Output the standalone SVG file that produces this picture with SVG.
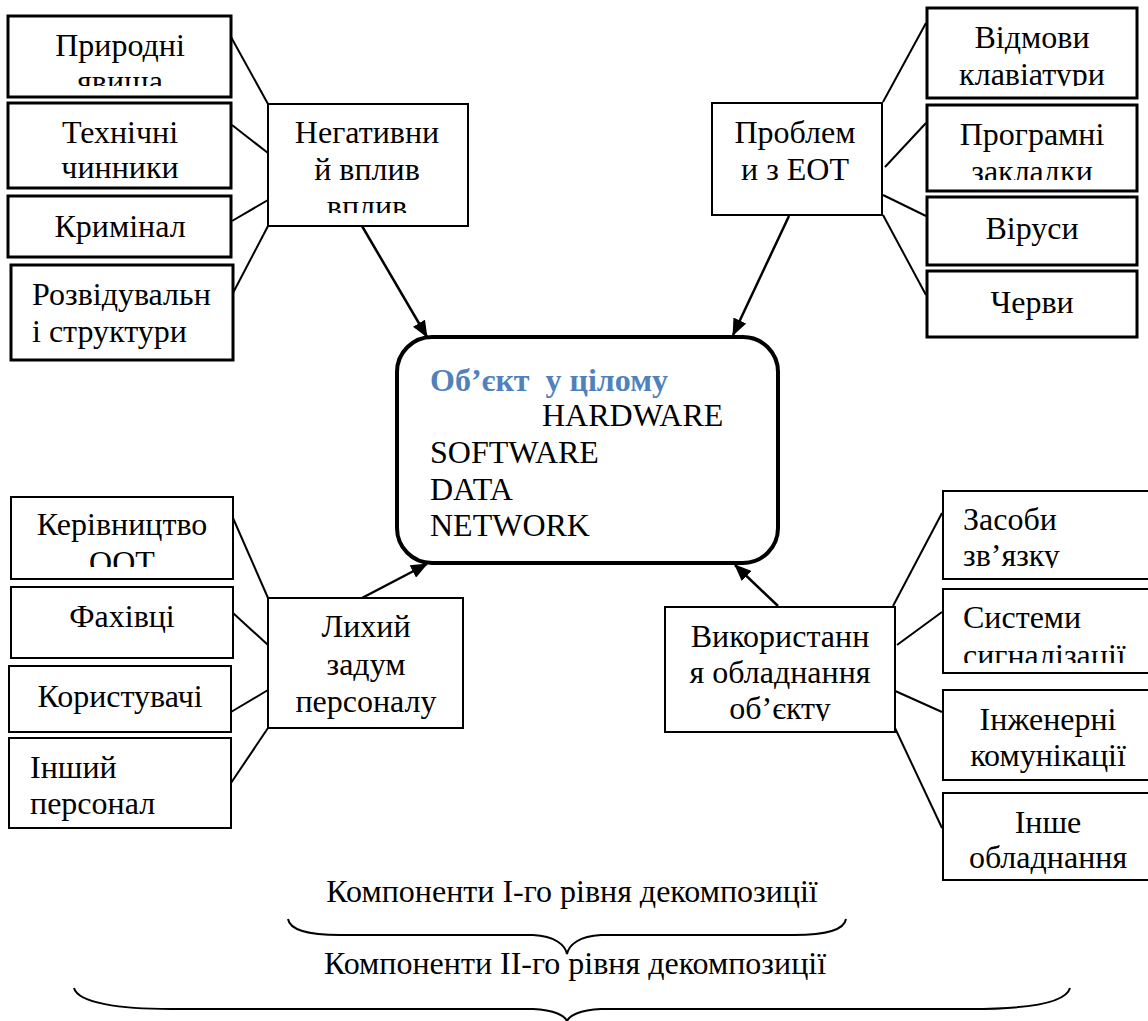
<svg xmlns="http://www.w3.org/2000/svg" width="1148" height="1021" viewBox="0 0 1148 1021">
<style>
text{font-family:"Liberation Serif","Times New Roman",serif;font-size:32px;fill:#000}
.c{text-anchor:middle}
.box{fill:#fff;stroke:#000;stroke-width:2}
.thick{stroke-width:3}
.ln{stroke:#000;stroke-width:2;fill:none}
.ar{stroke:#000;stroke-width:2.5;fill:none;marker-end:url(#ah)}
.title{font-weight:bold;fill:#4F81BD}
</style>
<defs>
<marker id="ah" markerUnits="userSpaceOnUse" markerWidth="18" markerHeight="14" refX="16" refY="7" orient="auto">
<path d="M0,0 L17,7 L0,14 Z" fill="#000"/>
</marker>
<clipPath id="cp1"><rect x="8" y="16" width="223" height="70"/></clipPath>
<clipPath id="cp2"><rect x="268" y="104" width="200" height="109"/></clipPath>
<clipPath id="cp3"><rect x="927" y="8" width="210" height="78"/></clipPath>
<clipPath id="cp4"><rect x="927" y="105" width="210" height="75"/></clipPath>
<clipPath id="cp5"><rect x="11" y="497" width="222" height="70"/></clipPath>
<clipPath id="cp6"><rect x="665" y="607" width="230" height="114"/></clipPath>
<clipPath id="cp7"><rect x="943" y="491" width="212" height="77"/></clipPath>
<clipPath id="cp8"><rect x="943" y="589" width="212" height="74"/></clipPath>
</defs>
<rect width="1148" height="1021" fill="#fff"/>

<g id="connectors">
<line class="ln" x1="231" y1="37" x2="268" y2="104"/>
<line class="ln" x1="232" y1="125" x2="268" y2="153"/>
<line class="ln" x1="232" y1="221" x2="268" y2="200"/>
<line class="ln" x1="233" y1="293" x2="268" y2="226"/>
<line class="ln" x1="883" y1="102" x2="926" y2="23"/>
<line class="ln" x1="885" y1="167" x2="926" y2="123"/>
<line class="ln" x1="883" y1="195" x2="926" y2="216"/>
<line class="ln" x1="883" y1="215" x2="926" y2="295"/>
<line class="ln" x1="233" y1="518" x2="268" y2="598"/>
<line class="ln" x1="233" y1="613" x2="268" y2="645"/>
<line class="ln" x1="231" y1="712" x2="268" y2="690"/>
<line class="ln" x1="231" y1="783" x2="268" y2="728"/>
<line class="ln" x1="893" y1="606" x2="942" y2="513"/>
<line class="ln" x1="897" y1="645" x2="942" y2="612"/>
<line class="ln" x1="893" y1="690" x2="942" y2="712"/>
<line class="ln" x1="895" y1="728" x2="942" y2="828"/>
<line class="ar" x1="362" y1="226" x2="427" y2="337"/>
<line class="ar" x1="789" y1="216" x2="733" y2="335"/>
<line class="ar" x1="362" y1="598" x2="427" y2="564"/>
<line class="ar" x1="778" y1="606" x2="735" y2="565"/>
</g>

<g id="n-center">
<rect x="397" y="337" width="381" height="226" rx="35" ry="35" fill="#fff" stroke="#000" stroke-width="4"/>
<text class="title" x="430" y="391" xml:space="preserve">Об’єкт  у цілому</text>
<text x="542" y="426">HARDWARE</text>
<text x="430" y="463">SOFTWARE</text>
<text x="430" y="500">DATA</text>
<text x="430" y="536">NETWORK</text>
</g>

<g id="n-pryrodni"><rect class="box thick" x="8" y="16" width="223" height="81"/>
<g clip-path="url(#cp1)"><text class="c" x="120" y="56">Природні</text><text class="c" x="120" y="92">явища</text></g></g>
<g id="n-tekhnichni"><rect class="box thick" x="8" y="103" width="223" height="85"/>
<text class="c" x="120" y="143">Технічні</text><text class="c" x="120" y="178">чинники</text></g>
<g id="n-kryminal"><rect class="box thick" x="8" y="196" width="223" height="61"/>
<text class="c" x="120" y="237">Кримінал</text></g>
<g id="n-rozvid"><rect class="box thick" x="11" y="265" width="222" height="95"/>
<text x="32" y="305">Розвідувальн</text><text x="32" y="342">і структури</text></g>
<g id="n-negatyvnyi"><rect class="box" x="268" y="104" width="200" height="122"/>
<g clip-path="url(#cp2)"><text class="c" x="367" y="143">Негативни</text><text class="c" x="367" y="180">й вплив</text><text class="c" x="367" y="217">вплив</text></g></g>

<g id="n-problemy"><rect class="box" x="712" y="103" width="170" height="112" stroke-width="2.5"/>
<text class="c" x="795" y="143">Проблем</text><text class="c" x="795" y="180">и з ЕОТ</text></g>
<g id="n-vidmovy"><rect class="box thick" x="927" y="8" width="210" height="90"/>
<g clip-path="url(#cp3)"><text class="c" x="1032" y="48">Відмови</text><text class="c" x="1032" y="85">клавіатури</text></g></g>
<g id="n-prohramni"><rect class="box thick" x="927" y="105" width="210" height="86"/>
<g clip-path="url(#cp4)"><text class="c" x="1032" y="145">Програмні</text><text class="c" x="1032" y="182">закладки</text></g></g>
<g id="n-virusy"><rect class="box thick" x="927" y="197" width="210" height="68"/>
<text class="c" x="1032" y="239">Віруси</text></g>
<g id="n-chervy"><rect class="box thick" x="927" y="271" width="210" height="66"/>
<text class="c" x="1032" y="313">Черви</text></g>

<g id="n-kerivnytstvo"><rect class="box" x="11" y="497" width="222" height="82"/>
<g clip-path="url(#cp5)"><text class="c" x="122" y="535">Керівництво</text><text class="c" x="122" y="573">ООТ</text></g></g>
<g id="n-fakhivtsi"><rect class="box" x="11" y="587" width="222" height="71"/>
<text class="c" x="122" y="627">Фахівці</text></g>
<g id="n-korystuvachi"><rect class="box" x="9" y="666" width="222" height="66"/>
<text class="c" x="120" y="707">Користувачі</text></g>
<g id="n-inshyi"><rect class="box" x="9" y="738" width="222" height="90"/>
<text x="30" y="778">Інший</text><text x="30" y="814">персонал</text></g>
<g id="n-lykhyi"><rect class="box" x="268" y="598" width="195" height="130"/>
<text class="c" x="366" y="637">Лихий</text><text class="c" x="366" y="675">задум</text><text class="c" x="366" y="712">персоналу</text></g>

<g id="n-vykorystannia"><rect class="box" x="665" y="607" width="230" height="125"/>
<g clip-path="url(#cp6)"><text class="c" x="780" y="647">Використанн</text><text class="c" x="780" y="683">я обладнання</text><text class="c" x="780" y="719">об’єкту</text></g></g>
<g id="n-zasoby"><rect class="box" x="943" y="491" width="212" height="88"/>
<g clip-path="url(#cp7)"><text x="963" y="530">Засоби</text><text x="963" y="566">зв’язку</text></g></g>
<g id="n-systemy"><rect class="box" x="943" y="589" width="212" height="84"/>
<g clip-path="url(#cp8)"><text x="963" y="628">Системи</text><text x="963" y="666">сигналізації</text></g></g>
<g id="n-inzhenerni"><rect class="box" x="943" y="690" width="212" height="90"/>
<text class="c" x="1048" y="730">Інженерні</text><text class="c" x="1048" y="766">комунікації</text></g>
<g id="n-inshe"><rect class="box" x="943" y="793" width="212" height="87"/>
<text class="c" x="1048" y="833">Інше</text><text class="c" x="1048" y="868">обладнання</text></g>

<g id="braces">
<text class="c" x="572" y="902">Компоненти I-го рівня декомпозиції</text>
<path class="ln" d="M288,919 C290,931 310,935 340,935 L533,935 C555,936 565,945 567,954 C569,945 579,936 601,935 L794,935 C824,935 844,931 846,919"/>
<text class="c" x="575" y="974">Компоненти II-го рівня декомпозиції</text>
<path class="ln" d="M74,988 C78,1003 120,1009 171,1009 L533,1009 C555,1010 565,1016 567,1021 C569,1016 579,1010 601,1009 L970,1009 C1030,1009 1066,1003 1070,988"/>
</g>
</svg>
